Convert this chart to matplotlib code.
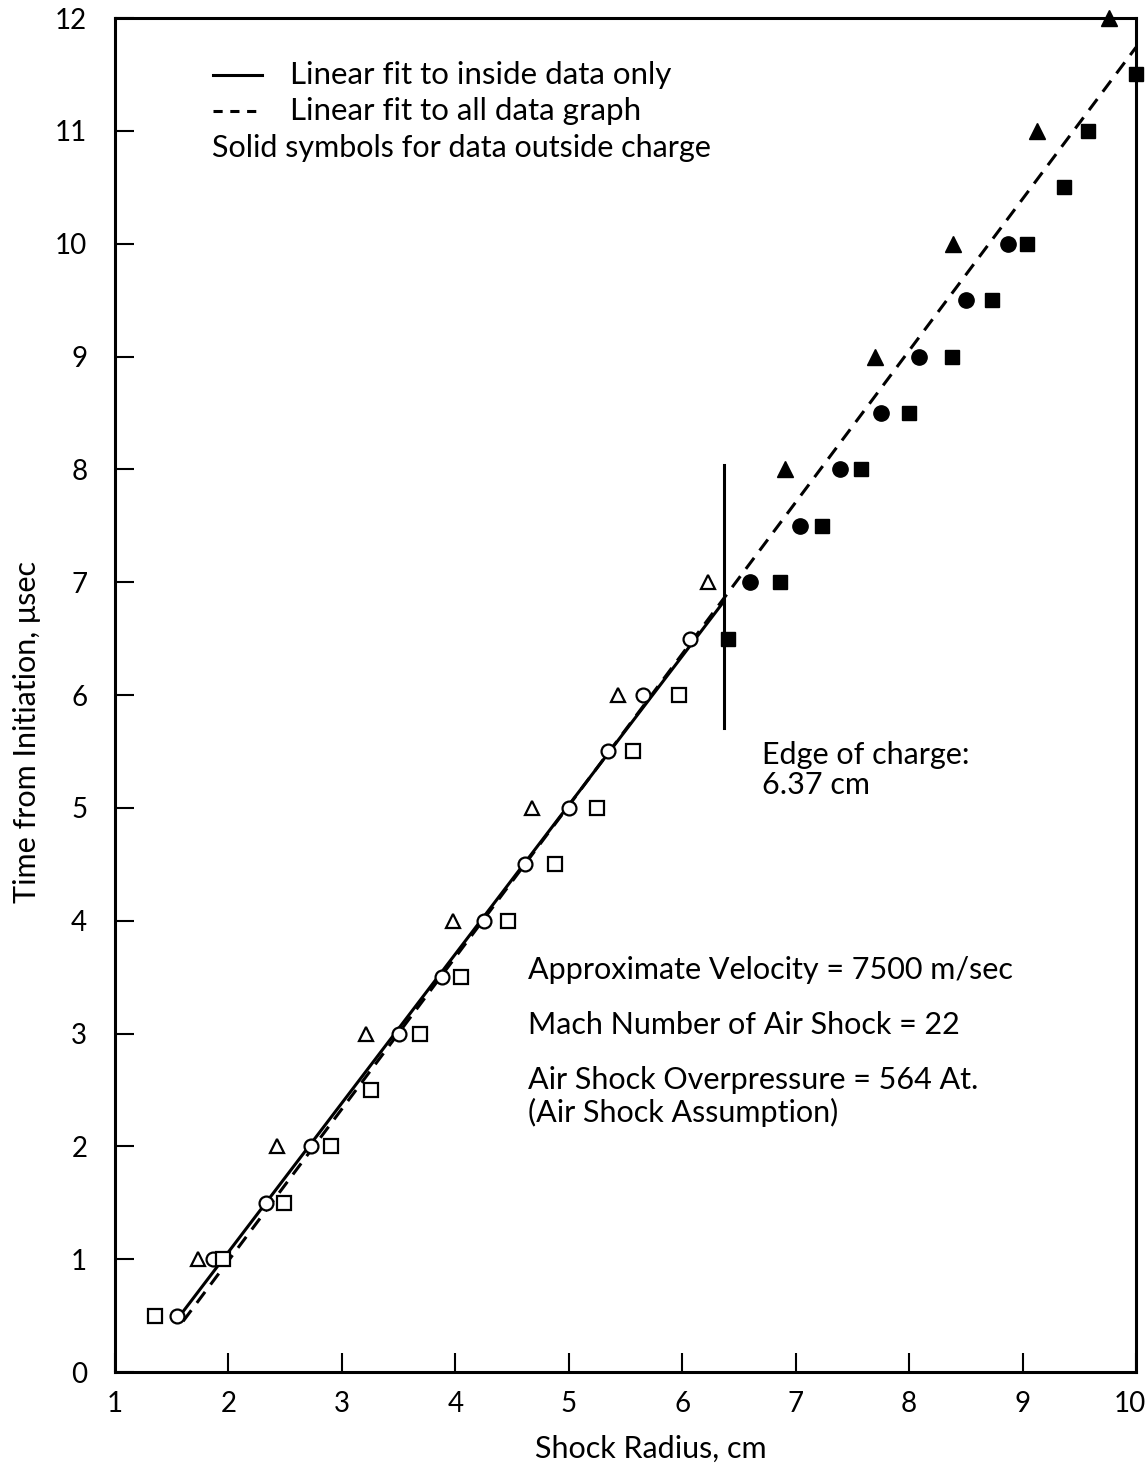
import matplotlib
matplotlib.use("Agg")
import matplotlib.pyplot as plt
from matplotlib.lines import Line2D
from matplotlib.transforms import ScaledTranslation

plt.rcParams["font.family"] = ["Lato", "DejaVu Sans"]

# open symbols: data inside the charge
circ_in_r = [1.55, 1.86, 2.33, 2.73, 3.50, 3.88, 4.25, 4.61, 5.00, 5.35, 5.65, 6.07]
circ_in_t = [0.5, 1.0, 1.5, 2.0, 3.0, 3.5, 4.0, 4.5, 5.0, 5.5, 6.0, 6.5]
tri_in_r = [1.73, 2.43, 3.21, 3.98, 4.68, 5.43, 6.23]
tri_in_t = [1.0, 2.0, 3.0, 4.0, 5.0, 6.0, 7.0]
sq_in_r = [1.35, 1.95, 2.49, 2.90, 3.26, 3.69, 4.05, 4.46, 4.88, 5.25, 5.57, 5.97]
sq_in_t = [0.5, 1.0, 1.5, 2.0, 2.5, 3.0, 3.5, 4.0, 4.5, 5.0, 5.5, 6.0]

# solid symbols: data outside the charge
circ_out_r = [6.60, 7.04, 7.39, 7.75, 8.09, 8.50, 8.87]
circ_out_t = [7.0, 7.5, 8.0, 8.5, 9.0, 9.5, 10.0]
tri_out_r = [6.91, 7.70, 8.39, 9.13, 9.76]
tri_out_t = [8.0, 9.0, 10.0, 11.0, 12.0]
sq_out_r = [6.40, 6.86, 7.23, 7.58, 8.00, 8.38, 8.73, 9.04, 9.37, 9.58, 10.0]
sq_out_t = [6.5, 7.0, 7.5, 8.0, 8.5, 9.0, 9.5, 10.0, 10.5, 11.0, 11.5]

# fitted lines (end points)
fit_inside_r = [1.55, 6.36]
fit_inside_t = [0.47, 6.82]
fit_all_r = [1.60, 10.0]
fit_all_t = [0.45, 11.74]

edge_r = 6.37
edge_span = [5.71, 8.04]

xticks = list(range(1, 11))
yticks = list(range(0, 13))

fig = plt.figure(figsize=(11.48, 14.66), dpi=100)
ax = fig.add_axes([0.1002, 0.0641, 0.8893, 0.9236])

lw = 2.2
ms = 10
mew = 1.6
ax.plot(fit_inside_r, fit_inside_t, "-", color="black", lw=lw, zorder=2)
ax.plot(fit_all_r, fit_all_t, color="black", lw=lw, ls=(0, (4.5, 3)), zorder=2)
ax.plot([edge_r, edge_r], edge_span, "-", color="black", lw=lw, zorder=2)

ax.plot(circ_in_r, circ_in_t, "o", ms=ms, mfc="white", mec="black", mew=mew, ls="none", zorder=3)
ax.plot(tri_in_r, tri_in_t, "^", ms=ms, mfc="white", mec="black", mew=mew, ls="none", zorder=3)
ax.plot(sq_in_r, sq_in_t, "s", ms=ms - 0.5, mfc="white", mec="black", mew=mew, ls="none", zorder=3)
ax.plot(circ_out_r, circ_out_t, "o", ms=ms + 1, color="black", ls="none", zorder=3, clip_on=False)
ax.plot(tri_out_r, tri_out_t, "^", ms=ms + 1.5, color="black", ls="none", zorder=3, clip_on=False)
ax.plot(sq_out_r, sq_out_t, "s", ms=ms, color="black", ls="none", zorder=3, clip_on=False)

ax.set_xlim(1, 10)
ax.set_ylim(0, 12)
ax.set_xticks(xticks)
ax.set_yticks(yticks)
ax.tick_params(direction="in", length=14, width=1.5, labelsize=20, top=False, right=False)
ax.tick_params(axis="x", pad=14)
ax.tick_params(axis="y", pad=20)
for s in ax.spines.values():
    s.set_linewidth(2.2)

# pull the last x label ("10") in a little so it stays on the page
last = ax.get_xticklabels()[-1]
last.set_transform(last.get_transform() + ScaledTranslation(-6 / 100, 0, fig.dpi_scale_trans))

ax.set_xlabel("Shock Radius, cm", fontsize=22)
ax.set_ylabel("Time from Initiation, \u03bcsec", fontsize=22)
ax.xaxis.set_label_coords(0.525, -0.046)
ax.yaxis.set_label_coords(-0.073, 0.473)

# key in the upper left
tf = ax.transAxes
ax.add_line(Line2D([0.096, 0.144], [0.958, 0.958], transform=tf, color="black", lw=lw))
ax.add_line(Line2D([0.096, 0.144], [0.931, 0.931], transform=tf, color="black", lw=lw,
                   ls=(0, (3, 2.5))))
ax.text(0.171, 0.958, "Linear fit to inside data only", transform=tf, fontsize=22.5, va="center")
ax.text(0.171, 0.931, "Linear fit to all data graph", transform=tf, fontsize=22.5, va="center")
ax.text(0.095, 0.904, "Solid symbols for data outside charge", transform=tf, fontsize=22,
        va="center")

ax.text(6.70, 5.47, "Edge of charge:", fontsize=22, va="center")
ax.text(6.70, 5.20, "6.37 cm", fontsize=22, va="center")

ax.text(4.64, 3.56, "Approximate Velocity = 7500 m/sec", fontsize=22, va="center")
ax.text(4.64, 3.08, "Mach Number of Air Shock = 22", fontsize=22, va="center")
ax.text(4.64, 2.59, "Air Shock Overpressure = 564 At.", fontsize=22, va="center")
ax.text(4.64, 2.30, "(Air Shock Assumption)", fontsize=22, va="center")

fig.savefig("out.png", dpi=100)
